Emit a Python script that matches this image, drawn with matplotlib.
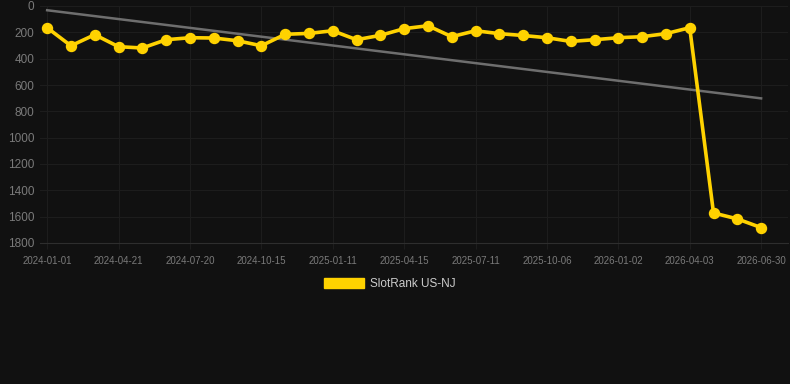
import matplotlib
matplotlib.use("Agg")
import matplotlib.pyplot as plt
from matplotlib.patches import Patch
import numpy as np

# rank values (lower = better)
ranks = [165, 302, 218, 309, 319, 256, 241, 243, 264, 302,
         215, 208, 188, 256, 223, 172, 150, 233, 188, 210,
         224, 241, 269, 256, 241, 233, 210, 165, 1572, 1617, 1683]
tick_labels = ["2024-01-01", "2024-04-21", "2024-07-20", "2024-10-15",
               "2025-01-11", "2025-04-15", "2025-07-11", "2025-10-06",
               "2026-01-02", "2026-04-03", "2026-06-30"]
series_name = "SlotRank US-NJ"

bg = "#111111"
grid_c = "#1d1d1d"
txt_c = "#7a7a7a"
gold = "#ffd200"

plt.rcParams["font.family"] = ["Liberation Sans", "DejaVu Sans"]

x = np.arange(len(ranks))
slope, icept = np.polyfit(x, ranks, 1)
trend = slope * x + icept

fig = plt.figure(figsize=(7.9, 3.84), dpi=100, facecolor=bg)
W, H = 790, 384
ax = fig.add_axes([40 / W, 1 - 243 / H, (788 - 40) / W, (243 - 6) / H])
ax.set_facecolor(bg)

ax.plot([x[0], x[-1]], [trend[0], trend[-1]], color="#6e6e6e", lw=1.8, zorder=2)
ax.plot(x, ranks, color=gold, lw=2.6, marker="o", ms=7.2, mfc=gold, mec=gold, zorder=3)

ax.set_ylim(1800, 0)
ax.set_yticks(np.arange(0, 1801, 200))
ax.set_xlim(-0.3, len(ranks) - 1 + 1.13)
ax.set_xticks(x[::3])
ax.set_xticklabels(tick_labels)

ax.grid(True, color=grid_c, lw=0.8)
ax.set_axisbelow(True)
for s in ["top", "right", "left"]:
    ax.spines[s].set_visible(False)
ax.spines["bottom"].set_color("#2e2e2e")
ax.tick_params(axis="x", colors=txt_c, labelsize=7, length=4, color=grid_c, pad=5)
ax.tick_params(axis="y", colors=txt_c, labelsize=8.5, length=0, pad=4)

handle = Patch(facecolor=gold, edgecolor=gold)
fig.legend([handle], [series_name], loc="center",
           bbox_to_anchor=(389.5 / W, 1 - 284 / H), frameon=False,
           fontsize=8.5, labelcolor="#cccccc", handlelength=3.4,
           handleheight=1.0, handletextpad=0.5, borderpad=0)

fig.savefig("out.png", dpi=100, facecolor=bg)
